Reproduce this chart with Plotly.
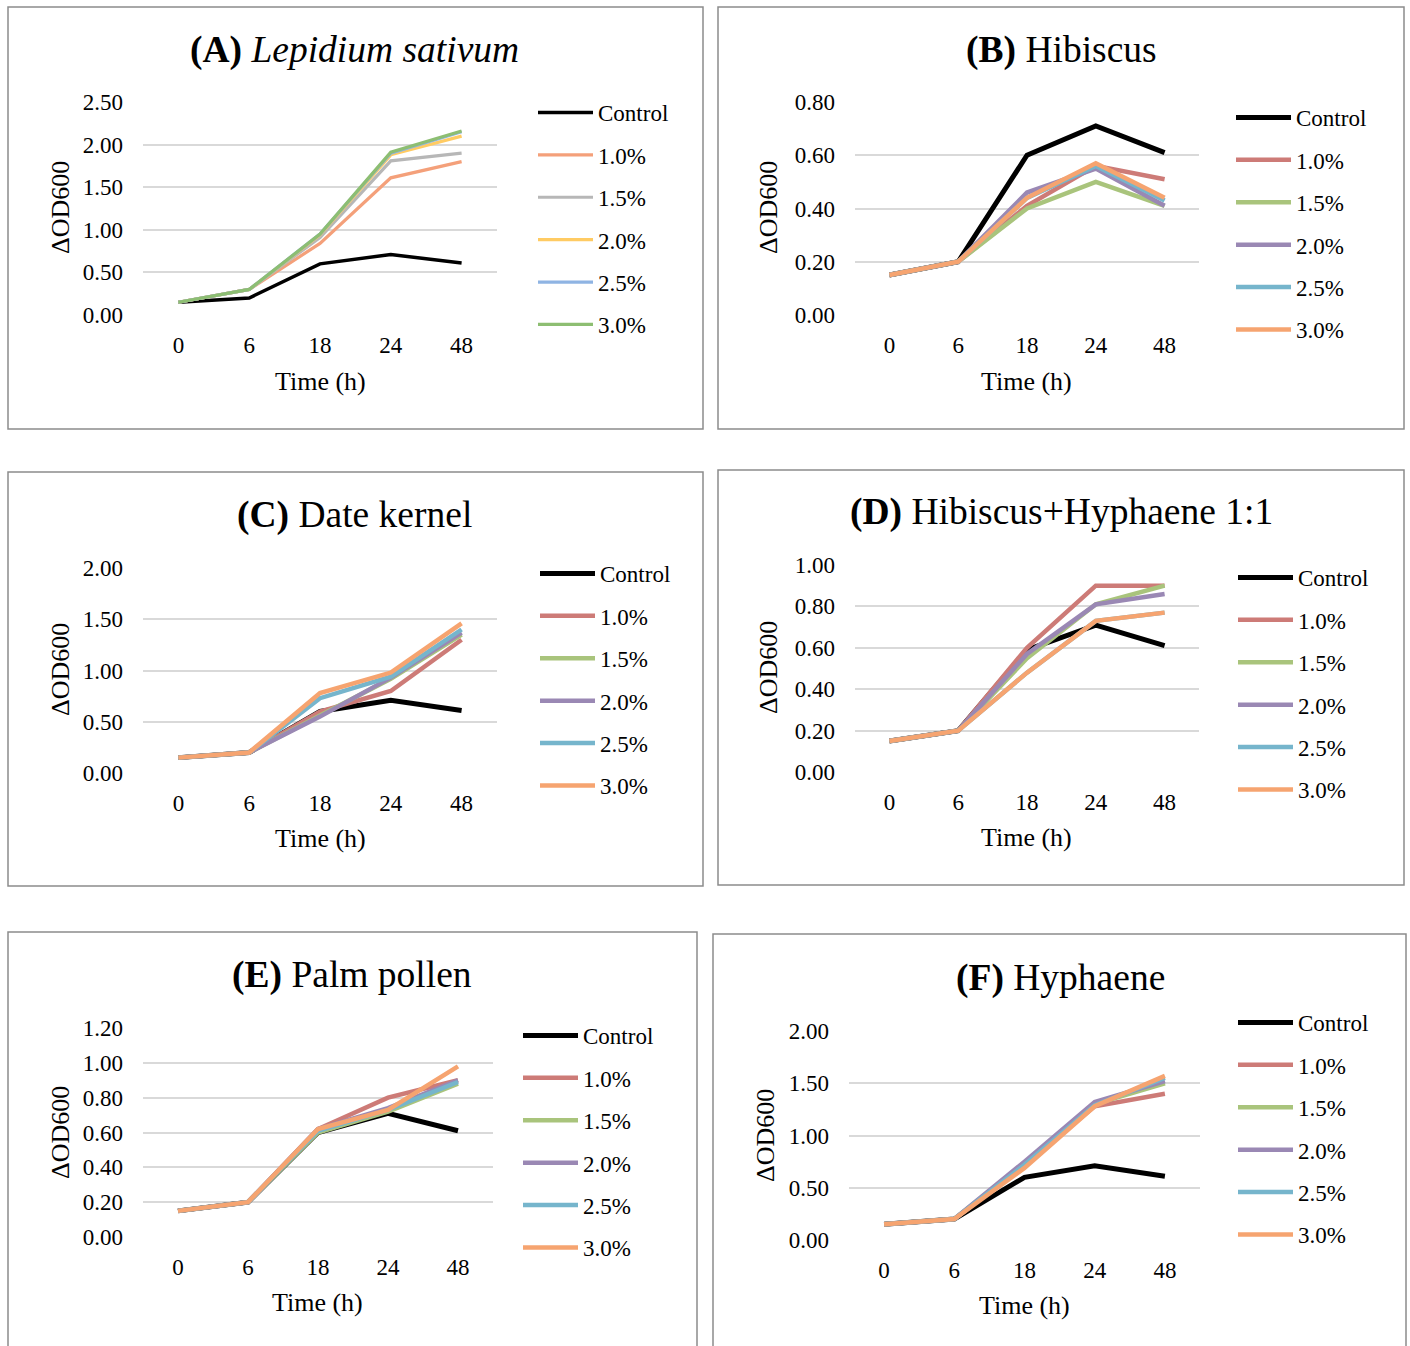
import plotly.graph_objects as go

W, H = 1410, 1346

times = ["0", "6", "18", "24", "48"]
series_names = ["Control", "1.0%", "1.5%", "2.0%", "2.5%", "3.0%"]

# (A) Lepidium sativum
A_values = [
    [0.15, 0.20, 0.60, 0.71, 0.61],
    [0.15, 0.30, 0.84, 1.61, 1.80],
    [0.15, 0.30, 0.91, 1.81, 1.90],
    [0.15, 0.30, 0.94, 1.88, 2.10],
    [0.15, 0.30, 0.95, 1.90, 2.15],
    [0.15, 0.30, 0.95, 1.91, 2.16],
]
# (B) Hibiscus
B_values = [
    [0.15, 0.20, 0.60, 0.71, 0.61],
    [0.15, 0.20, 0.41, 0.56, 0.51],
    [0.15, 0.20, 0.40, 0.50, 0.41],
    [0.15, 0.20, 0.46, 0.55, 0.41],
    [0.15, 0.20, 0.44, 0.56, 0.43],
    [0.15, 0.20, 0.44, 0.57, 0.44],
]
# (C) Date kernel
C_values = [
    [0.15, 0.20, 0.60, 0.71, 0.61],
    [0.15, 0.20, 0.60, 0.80, 1.30],
    [0.15, 0.20, 0.56, 0.92, 1.35],
    [0.15, 0.20, 0.55, 0.93, 1.37],
    [0.15, 0.20, 0.73, 0.94, 1.40],
    [0.15, 0.20, 0.78, 0.98, 1.46],
]
# (D) Hibiscus+Hyphaene 1:1
D_values = [
    [0.15, 0.20, 0.59, 0.71, 0.61],
    [0.15, 0.20, 0.60, 0.90, 0.90],
    [0.15, 0.20, 0.55, 0.81, 0.90],
    [0.15, 0.20, 0.57, 0.81, 0.86],
    [0.15, 0.20, 0.48, 0.73, 0.77],
    [0.15, 0.20, 0.48, 0.73, 0.77],
]
# (E) Palm pollen
E_values = [
    [0.15, 0.20, 0.60, 0.71, 0.61],
    [0.15, 0.20, 0.62, 0.80, 0.90],
    [0.15, 0.20, 0.60, 0.72, 0.88],
    [0.15, 0.20, 0.62, 0.74, 0.90],
    [0.15, 0.20, 0.61, 0.73, 0.89],
    [0.15, 0.20, 0.62, 0.73, 0.98],
]
# (F) Hyphaene
F_values = [
    [0.15, 0.20, 0.60, 0.71, 0.61],
    [0.15, 0.20, 0.72, 1.28, 1.40],
    [0.15, 0.20, 0.73, 1.30, 1.50],
    [0.15, 0.20, 0.75, 1.32, 1.52],
    [0.15, 0.20, 0.72, 1.29, 1.55],
    [0.15, 0.20, 0.69, 1.28, 1.57],
]

titles = [
    "<b>(A)</b> <i>Lepidium sativum</i>",
    "<b>(B)</b> Hibiscus",
    "<b>(C)</b> Date kernel",
    "<b>(D)</b> Hibiscus+Hyphaene 1:1",
    "<b>(E)</b> Palm pollen",
    "<b>(F)</b> Hyphaene",
]
y_max = [2.5, 0.8, 2.0, 1.0, 1.2, 2.0]
y_step = [0.5, 0.2, 0.5, 0.2, 0.2, 0.5]

colors_A = ["#000000", "#F4A07A", "#B7B7B7", "#FFCB63", "#8FB4E3", "#8DBE72"]
colors_rest = ["#000000", "#CD7B77", "#A9C47C", "#9A88B4", "#76B5CC", "#F6A470"]

all_values = [A_values, B_values, C_values, D_values, E_values, F_values]

FONT = "Liberation Serif, Times New Roman, serif"

# layout geometry in pixels
plot_px = [  # x0, x1, y_top, y_bottom
    (143, 497, 102, 315),
    (855, 1199, 102, 315),
    (143, 497, 568, 773),
    (855, 1199, 565, 772),
    (143, 493, 1028, 1237),
    (849, 1200, 1031, 1240),
]
box_px = [
    (8, 703, 7, 429),
    (718, 1404, 7, 429),
    (8, 703, 472, 886),
    (718, 1404, 470, 885),
    (8, 697, 932, 1352),
    (713, 1406, 934, 1352),
]
title_px = [(355, 50), (1061, 50), (355, 515), (1061, 512), (352, 975), (1060, 978)]
ytitle_px = [(60, 208), (768, 208), (60, 670), (768, 668), (60, 1133), (765, 1135)]
xtitle_px = [(320, 381), (1026, 381), (320, 838), (1026, 837), (317, 1302), (1024, 1305)]
legend_px = [(533, 91), (1231, 96), (535, 552), (1233, 556), (518, 1014), (1233, 1001)]


def px_x(v):
    return v / W


def px_y(v):
    return 1 - v / H


fig = go.Figure()
annotations = []
shapes = []

for i, vals in enumerate(all_values):
    n = i + 1
    xa = "x" if n == 1 else f"x{n}"
    ya = "y" if n == 1 else f"y{n}"
    leg = "legend" if n == 1 else f"legend{n}"
    cols = colors_A if i == 0 else colors_rest
    for j, name in enumerate(series_names):
        if i == 0:
            width = 3.5 if j == 0 else 3.2
        else:
            width = 5 if j == 0 else 4.5
        fig.add_trace(go.Scatter(
            x=times, y=vals[j], name=name, mode="lines",
            line=dict(color=cols[j], width=width),
            xaxis=xa, yaxis=ya, legend=leg, legendgroup=f"g{n}_{j}",
            showlegend=True,
        ))

    x0, x1, yt, yb = plot_px[i]
    xkey = "xaxis" if n == 1 else f"xaxis{n}"
    ykey = "yaxis" if n == 1 else f"yaxis{n}"
    fig.layout[xkey] = dict(
        domain=[px_x(x0), px_x(x1)], anchor=ya, type="category",
        range=[-0.5, 4.5], showgrid=False, showline=False, zeroline=False,
        ticks="", ticklabelstandoff=14, automargin=False,
        tickfont=dict(family=FONT, size=23, color="#000"),
    )
    fig.layout[ykey] = dict(
        domain=[px_y(yb), px_y(yt)], anchor=xa, range=[0, y_max[i]],
        dtick=y_step[i], tick0=0, tickformat=".2f",
        showgrid=True, gridcolor="#D9D9D9", gridwidth=2,
        showline=False, zeroline=False, ticks="", ticklabelstandoff=19,
        automargin=False,
        tickfont=dict(family=FONT, size=23, color="#000"),
    )

    lx, ly = legend_px[i]
    fig.layout[leg] = dict(
        x=px_x(lx), y=px_y(ly), xanchor="left", yanchor="top",
        font=dict(family=FONT, size=23, color="#000"),
        bgcolor="rgba(0,0,0,0)", tracegroupgap=9.5, itemwidth=55,
        traceorder="grouped",
    )

    bx0, bx1, by0, by1 = box_px[i]
    shapes.append(dict(type="rect", xref="paper", yref="paper",
                       x0=px_x(bx0), x1=px_x(bx1), y0=px_y(by1), y1=px_y(by0),
                       line=dict(color="#8C8C8C", width=1.5), layer="below"))

    tx, ty = title_px[i]
    annotations.append(dict(text=titles[i], x=px_x(tx), y=px_y(ty), xref="paper", yref="paper",
                            xanchor="center", yanchor="middle", showarrow=False,
                            font=dict(family=FONT, size=37.5, color="#000")))
    yx, yy = ytitle_px[i]
    annotations.append(dict(text="ΔOD600", x=px_x(yx), y=px_y(yy), xref="paper", yref="paper",
                            xanchor="center", yanchor="middle", showarrow=False, textangle=-90,
                            font=dict(family=FONT, size=26, color="#000")))
    xx, xy = xtitle_px[i]
    annotations.append(dict(text="Time (h)", x=px_x(xx), y=px_y(xy), xref="paper", yref="paper",
                            xanchor="center", yanchor="middle", showarrow=False,
                            font=dict(family=FONT, size=26, color="#000")))

fig.update_layout(
    width=W, height=H, margin=dict(l=0, r=0, t=0, b=0, autoexpand=False),
    paper_bgcolor="white", plot_bgcolor="white",
    annotations=annotations, shapes=shapes, showlegend=True,
)

fig.write_html(
    "out.html",
    config={"displayModeBar": False},
    post_script="document.body.style.margin='0';document.body.style.padding='0';document.body.style.overflow='hidden';",
)
